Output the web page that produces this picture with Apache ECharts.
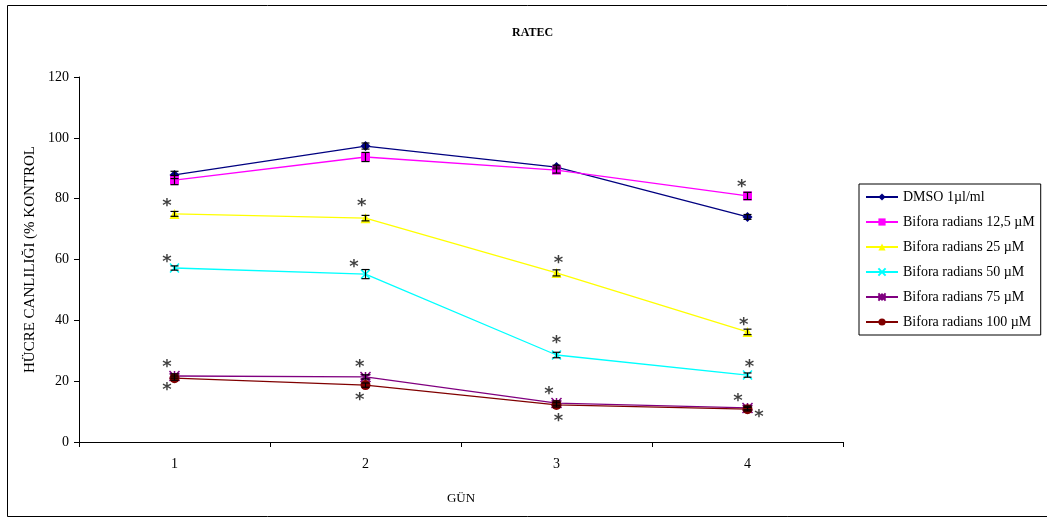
<!DOCTYPE html>
<html lang="tr">
<head>
    <meta charset="UTF-8">
    <title>RATEC</title>
    <script src="https://cdn.jsdelivr.net/npm/echarts@6/dist/echarts.min.js"></script>
    <style>
        html, body { margin: 0; padding: 0; background: #fff; }
        #main { width: 1047px; height: 519px; }
    </style>
</head>
<body>
<div id="main"></div>
<script type="text/javascript">
    var days = ['1', '2', '3', '4'];
    var seriesNames = ['DMSO 1µl/ml', 'Bifora radians 12,5 µM', 'Bifora radians 25 µM',
        'Bifora radians 50 µM', 'Bifora radians 75 µM', 'Bifora radians 100 µM'];
    var dmso = [87.8, 97.3, 90.4, 74.0];
    var br125 = [86.1, 93.7, 89.4, 80.9];
    var br25 = [75.0, 73.6, 55.6, 36.2];
    var br50 = [57.2, 55.2, 28.6, 22.0];
    var br75 = [21.7, 21.4, 12.8, 11.2];
    var br100 = [21.0, 18.7, 12.2, 10.8];
    // standart hata (tahmini)
    var errDmso = [1.2, 1.0, 0.6, 0.8];
    var err125 = [1.5, 1.5, 1.0, 1.2];
    var err25 = [0.8, 0.9, 1.0, 0.9];
    var err50 = [0.7, 1.5, 0.9, 0.7];
    var err75 = [0.7, 0.7, 0.7, 0.6];
    var err100 = [0.7, 0.7, 0.7, 0.6];
    // yildiz isaretleri: [gun indeksi, deger]
    var stars = [
        [-0.04, 79.2], [-0.04, 60.8], [-0.04, 26.3], [-0.04, 18.7],
        [0.98, 79.2], [0.94, 59.2], [0.97, 26.3], [0.97, 15.5],
        [2.01, 60.5], [2.0, 34.2], [1.96, 17.4], [2.01, 8.5],
        [2.97, 85.5], [2.98, 40.1], [3.01, 26.3], [2.95, 15.1], [3.06, 9.9]
    ];

    var colors = ['#000080', '#ff00ff', '#ffff00', '#00ffff', '#800080', '#800000'];
    var symbols = ['diamond', 'rect', 'triangle',
        'path://M0,0L10,10M10,0L0,10',
        'path://M5,0L5,10M0,2.5L10,7.5M0,7.5L10,2.5M0,0L10,10M10,0L0,10',
        'circle'];
    var sizes = [10, 9, 10, 9, 10, 10];
    var values = [dmso, br125, br25, br50, br75, br100];
    var errs = [errDmso, err125, err25, err50, err75, err100];
    var font = 'Liberation Serif';

    var errData = [];
    for (var s = 0; s < values.length; s++) {
        for (var i = 0; i < days.length; i++) {
            errData.push([i, values[s][i], errs[s][i]]);
        }
    }

    var series = [];
    for (var k = 0; k < values.length; k++) {
        series.push({
            name: seriesNames[k],
            type: 'line',
            data: values[k],
            symbol: symbols[k],
            symbolSize: sizes[k],
            showAllSymbol: true,
            lineStyle: {color: colors[k], width: 1.3},
            itemStyle: {color: colors[k], borderColor: colors[k], borderWidth: (k === 3 || k === 4) ? 1.5 : 0},
            z: 3
        });
    }
    series.push({
        name: 'hata',
        type: 'custom',
        data: errData,
        z: 4,
        renderItem: function (params, api) {
            var x = api.value(0), v = api.value(1), e = api.value(2);
            var hi = api.coord([x, v + e]);
            var lo = api.coord([x, v - e]);
            var w = 4;
            var st = {stroke: '#000', lineWidth: 1.2};
            return {
                type: 'group',
                children: [
                    {type: 'line', shape: {x1: hi[0], y1: hi[1], x2: lo[0], y2: lo[1]}, style: st},
                    {type: 'line', shape: {x1: hi[0] - w, y1: hi[1], x2: hi[0] + w, y2: hi[1]}, style: st},
                    {type: 'line', shape: {x1: lo[0] - w, y1: lo[1], x2: lo[0] + w, y2: lo[1]}, style: st}
                ]
            };
        }
    });
    series.push({
        name: 'yildiz',
        type: 'scatter',
        xAxisIndex: 1,
        data: stars,
        symbolSize: 2,
        itemStyle: {color: 'rgba(0,0,0,0)'},
        label: {
            show: true,
            position: 'inside',
            formatter: '*',
            fontFamily: 'DejaVu Sans',
            fontWeight: 'bold',
            fontSize: 18,
            color: '#111',
            offset: [0, 5]
        },
        z: 5
    });

    var myChart = echarts.init(document.getElementById('main'));
    var option = {
        animation: false,
        title: {
            text: 'RATEC',
            left: 507,
            top: 22,
            textStyle: {fontFamily: font, fontWeight: 'bold', fontSize: 12, color: '#000'}
        },
        legend: {
            data: seriesNames,
            orient: 'vertical',
            left: 859,
            top: 184,
            padding: [6, 6, 6, 6],
            itemWidth: 32,
            itemHeight: 9,
            itemGap: 11,
            borderColor: '#000',
            borderWidth: 1,
            textStyle: {fontFamily: font, fontSize: 14, color: '#000', lineHeight: 14}
        },
        graphic: [{
            type: 'rect',
            shape: {x: 7.5, y: 5.5, width: 1045, height: 511},
            style: {fill: 'none', stroke: '#000', lineWidth: 1},
            silent: true
        }],
        grid: {left: 79, top: 77, right: 204, bottom: 77},
        xAxis: [{
            type: 'category',
            data: days,
            name: 'GÜN',
            nameLocation: 'middle',
            nameGap: 50,
            nameTextStyle: {fontFamily: font, fontSize: 13, color: '#000'},
            axisLine: {lineStyle: {color: '#000', width: 1}},
            axisTick: {show: true, length: 5, lineStyle: {color: '#000'}},
            axisLabel: {fontFamily: font, fontSize: 14, color: '#000', margin: 15}
        }, {
            type: 'value',
            min: -0.5,
            max: 3.5,
            show: false
        }],
        yAxis: {
            type: 'value',
            min: 0,
            max: 120,
            interval: 20,
            name: 'HÜCRE CANLILIĞI (% KONTROL',
            nameLocation: 'middle',
            nameGap: 40,
            nameTextStyle: {fontFamily: font, fontSize: 15, color: '#000'},
            axisLine: {show: true, onZero: false, lineStyle: {color: '#000', width: 1}},
            axisTick: {show: true, length: 5, lineStyle: {color: '#000'}},
            axisLabel: {fontFamily: font, fontSize: 14, color: '#000', margin: 10},
            splitLine: {show: false}
        },
        series: series
    };
    myChart.setOption(option);
</script>
</body>
</html>
